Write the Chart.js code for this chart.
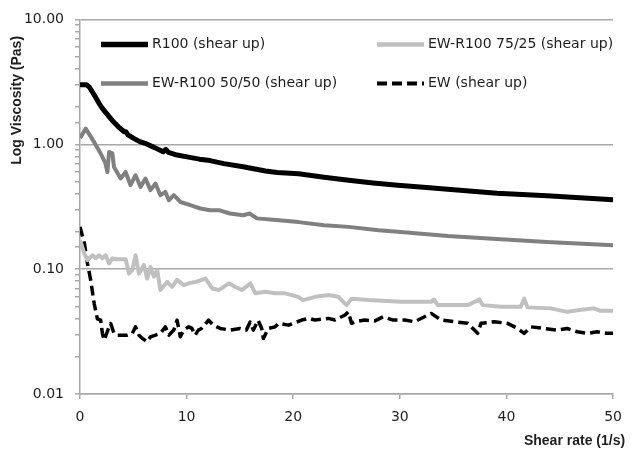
<!DOCTYPE html>
<html>
<head>
<meta charset="utf-8">
<title>Log Viscosity vs Shear rate</title>
<script src="https://cdn.jsdelivr.net/npm/chart.js@4.4.1/dist/chart.umd.min.js"></script>
<style>
    html, body { margin: 0; padding: 0; background: #fff; overflow: hidden; }
    #chartBox { width: 632px; height: 453px; }
    #viscosityChart { display: block; }
</style>
</head>
<body>
<div id="chartBox"><canvas id="viscosityChart" width="632" height="453"></canvas></div>
<script>
// Shear-up viscosity sweeps (shear rate in 1/s, viscosity in Pa·s)
const seriesLabels = ['R100 (shear up)', 'EW-R100 75/25 (shear up)', 'EW-R100 50/50 (shear up)', 'EW (shear up)'];

const r100Rate = [0, 0.6, 0.9, 1.35, 1.8, 2.1, 2.5, 3.0, 3.6, 4.15, 4.3, 4.5, 5.0, 5.6, 6.2, 7.0, 7.8, 8.05, 8.3, 9.1,
    10.3, 11.2, 12.2, 13.5, 15.3, 17.4, 18.5, 20.5, 22.9, 25.2, 27.5, 29.8, 32.5, 34.5, 39.1, 43.8, 46.5, 50];
const r100Visc = [3.0, 3.0, 2.85, 2.47, 2.12, 1.94, 1.76, 1.56, 1.38, 1.26, 1.26, 1.19, 1.12, 1.05, 1.01, 0.94, 0.87, 0.91, 0.86, 0.82,
    0.785, 0.76, 0.74, 0.70, 0.66, 0.61, 0.595, 0.58, 0.545, 0.515, 0.49, 0.47, 0.45, 0.437, 0.405, 0.387, 0.375, 0.36];

const mix7525Rate = [0, 0.07, 0.39, 0.7, 1.17, 1.48, 1.79, 2.1, 2.41, 2.73, 3.03, 3.5, 4.28, 4.59, 4.9, 5.21, 5.53, 5.99, 6.3, 6.61,
    6.93, 7.24, 7.54, 8.17, 8.64, 9.1, 9.73, 10.22, 10.85, 11.78, 12.4, 13.02, 13.96, 14.58, 15.2, 15.98, 16.45, 17.39, 18.32, 19.25,
    20.45, 20.92, 22.05, 23.3, 24.23, 25.0, 25.47, 27.03, 30.14, 32.94, 33.2, 33.57, 36.37, 37.46, 37.77, 39.48, 41.34, 41.66, 41.97, 44.15,
    45.7, 47.26, 48.2, 48.81, 50];
const mix7525Visc = [0.15, 0.165, 0.134, 0.118, 0.129, 0.122, 0.129, 0.122, 0.129, 0.111, 0.122, 0.12, 0.12, 0.092, 0.098, 0.129, 0.092, 0.108, 0.084, 0.104,
    0.087, 0.098, 0.068, 0.079, 0.072, 0.082, 0.0745, 0.077, 0.079, 0.084, 0.070, 0.068, 0.077, 0.072, 0.068, 0.077, 0.064, 0.066, 0.064, 0.064,
    0.060, 0.0565, 0.060, 0.062, 0.060, 0.0515, 0.058, 0.0565, 0.0547, 0.0547, 0.057, 0.0515, 0.0515, 0.0572, 0.0515, 0.050, 0.050, 0.058, 0.0494, 0.0485,
    0.0455, 0.0476, 0.0485, 0.0464, 0.0464];

const mix5050Rate = [0, 0.54, 1.33, 1.94, 2.38, 2.57, 2.73, 3.03, 3.19, 3.81, 4.28, 4.74, 5.21, 5.68, 6.14, 6.61, 7.08, 7.54, 8.01, 8.33,
    8.8, 9.41, 10.35, 11.28, 12.2, 13.1, 14.05, 15.3, 15.9, 16.6, 18.4, 20.5, 22.9, 25.2, 28, 30.1, 34.5, 39.1, 43.8, 50];
const mix5050Visc = [1.12, 1.335, 1.04, 0.843, 0.705, 0.60, 0.868, 0.847, 0.658, 0.532, 0.60, 0.47, 0.565, 0.455, 0.532, 0.429, 0.485, 0.391, 0.415, 0.356,
    0.391, 0.345, 0.325, 0.306, 0.296, 0.296, 0.279, 0.27, 0.279, 0.255, 0.247, 0.238, 0.225, 0.218, 0.205, 0.198, 0.184, 0.174, 0.165, 0.155];

const ewRate = [0, 0.42, 0.7, 1.0, 1.33, 1.63, 1.94, 2.1, 2.26, 2.73, 2.88, 3.19, 3.5, 4.43, 4.9, 5.21, 5.53, 5.84, 6.3, 6.61,
    7.08, 7.54, 8.01, 8.33, 8.8, 9.1, 9.41, 9.73, 10.2, 10.5, 10.8, 11.1, 11.4, 12.06, 12.5, 13.15, 14.08, 15.0, 15.6, 15.95,
    16.26, 16.7, 17.04, 17.2, 17.67, 18.3, 18.63, 19.56, 20.8, 21.43, 22.05, 23.3, 23.92, 24.86, 25.16, 25.47, 25.79, 26.72, 27.66, 28.43,
    29.37, 30.46, 31.39, 32.94, 33.88, 35.13, 36.37, 37.3, 37.61, 38.86, 40.1, 41.04, 41.66, 42.28, 43.53, 44.77, 45.7, 46.64, 47.57, 48.5,
    49.43, 50];
const ewVisc = [0.218, 0.16, 0.111, 0.082, 0.053, 0.040, 0.039, 0.0306, 0.027, 0.0345, 0.0367, 0.0306, 0.0296, 0.0296, 0.0306, 0.0345, 0.0296, 0.0279, 0.0262, 0.0287,
    0.0296, 0.0306, 0.0345, 0.0296, 0.0325, 0.039, 0.0287, 0.0325, 0.0345, 0.0335, 0.0296, 0.0325, 0.0335, 0.039, 0.0356, 0.0335, 0.0325, 0.0335, 0.0325, 0.0376,
    0.0325, 0.039, 0.0335, 0.0279, 0.0335, 0.0345, 0.0368, 0.0356, 0.0391, 0.0403, 0.0391, 0.0403, 0.0391, 0.0429, 0.0455, 0.0368, 0.0379, 0.0391, 0.0385, 0.0415,
    0.0391, 0.0391, 0.0379, 0.0442, 0.0391, 0.0379, 0.0368, 0.0306, 0.0368, 0.0379, 0.0368, 0.0335, 0.0306, 0.0345, 0.0335, 0.0325, 0.0335, 0.0315, 0.0306, 0.0315,
    0.0306, 0.0306];

const xTickValues = [0, 10, 20, 30, 40, 50];
const yAxisTitle = 'Log Viscosity (Pas)';
const xAxisTitle = 'Shear rate (1/s)';

const FONT = '"DejaVu Sans", "Liberation Sans", sans-serif';
const TITLE_FONT = 'bold 14px "Liberation Sans", Arial, sans-serif';
const TEXT_COLOR = '#1e1e1e';
const GRID_COLOR = '#a8a8a8';

function toPoints(rates, values) {
    return rates.map((r, i) => ({ x: r, y: values[i] }));
}

function isDecade(value) {
    const e = Math.log10(value);
    return Math.abs(e - Math.round(e)) < 1e-6;
}

// Two-column legend drawn inside the plot area
const insideLegend = {
    id: 'insideLegend',
    afterDatasetsDraw(chart) {
        const { ctx, chartArea } = chart;
        const colX = [chartArea.left + 21, chartArea.left + 297];
        const rowY = [chartArea.top + 25, chartArea.top + 64];
        const sampleLen = 47;
        ctx.save();
        ctx.font = '14px ' + FONT;
        ctx.textBaseline = 'middle';
        ctx.fillStyle = TEXT_COLOR;
        chart.data.datasets.forEach((ds, i) => {
            const x = colX[i % 2];
            const y = rowY[Math.floor(i / 2)];
            ctx.beginPath();
            ctx.strokeStyle = ds.borderColor;
            ctx.lineWidth = ds.borderWidth + 0.5;
            ctx.setLineDash(ds.borderDash || []);
            ctx.moveTo(x, y);
            ctx.lineTo(x + sampleLen, y);
            ctx.stroke();
            ctx.setLineDash([]);
            ctx.fillText(ds.label, x + sampleLen + 4, y);
        });
        ctx.restore();
    }
};

// Axis titles placed the way the original sheet had them
const axisTitles = {
    id: 'axisTitles',
    afterDraw(chart) {
        const { ctx, chartArea } = chart;
        ctx.save();
        ctx.font = TITLE_FONT;
        ctx.fillStyle = TEXT_COLOR;
        ctx.textBaseline = 'middle';

        ctx.save();
        ctx.translate(17, chartArea.top + 81);
        ctx.rotate(-Math.PI / 2);
        ctx.textAlign = 'center';
        ctx.fillText(yAxisTitle, 0, 0);
        ctx.restore();

        // right edge sits just past the end of the x axis
        ctx.textAlign = 'right';
        ctx.fillText(xAxisTitle, chartArea.right + 12, chartArea.bottom + 47);
        ctx.restore();
    }
};

const ctx = document.getElementById('viscosityChart').getContext('2d');

new Chart(ctx, {
    type: 'line',
    data: {
        datasets: [
            {
                label: seriesLabels[0],
                data: toPoints(r100Rate, r100Visc),
                borderColor: '#000000',
                borderWidth: 5
            },
            {
                label: seriesLabels[1],
                data: toPoints(mix7525Rate, mix7525Visc),
                borderColor: '#c0c0c0',
                borderWidth: 4
            },
            {
                label: seriesLabels[2],
                data: toPoints(mix5050Rate, mix5050Visc),
                borderColor: '#808080',
                borderWidth: 4
            },
            {
                label: seriesLabels[3],
                data: toPoints(ewRate, ewVisc),
                borderColor: '#000000',
                borderWidth: 3.5,
                borderDash: [10, 5]
            }
        ]
    },
    options: {
        responsive: false,
        animation: false,
        events: [],
        layout: {
            padding: { top: 19, right: 16, left: 0, bottom: 0 }
        },
        elements: {
            point: { radius: 0 },
            line: { tension: 0, fill: false, borderJoinStyle: 'round' }
        },
        plugins: {
            legend: { display: false },
            tooltip: { enabled: false }
        },
        scales: {
            x: {
                type: 'linear',
                min: 0,
                max: 50,
                afterFit(scale) { scale.height = 59; },
                afterBuildTicks(scale) {
                    scale.ticks = xTickValues.map(v => ({ value: v }));
                },
                border: { color: GRID_COLOR, width: 1.5 },
                grid: {
                    drawOnChartArea: false,
                    tickLength: 5,
                    tickColor: GRID_COLOR,
                    lineWidth: 1.5
                },
                ticks: {
                    padding: 10,
                    color: TEXT_COLOR,
                    font: { family: FONT, size: 14 },
                    maxRotation: 0
                }
            },
            y: {
                type: 'logarithmic',
                min: 0.01,
                max: 10,
                afterFit(scale) { scale.width = 80; },
                border: { color: GRID_COLOR, width: 1.5 },
                grid: {
                    color: c => (c.tick && isDecade(c.tick.value)) ? GRID_COLOR : 'rgba(0,0,0,0)',
                    tickColor: GRID_COLOR,
                    tickLength: 5,
                    lineWidth: 1.5
                },
                ticks: {
                    autoSkip: false,
                    padding: 11,
                    color: TEXT_COLOR,
                    font: { family: FONT, size: 14 },
                    callback: value => isDecade(value) ? value.toFixed(2) : ''
                }
            }
        }
    },
    plugins: [insideLegend, axisTitles]
});
</script>
</body>
</html>
